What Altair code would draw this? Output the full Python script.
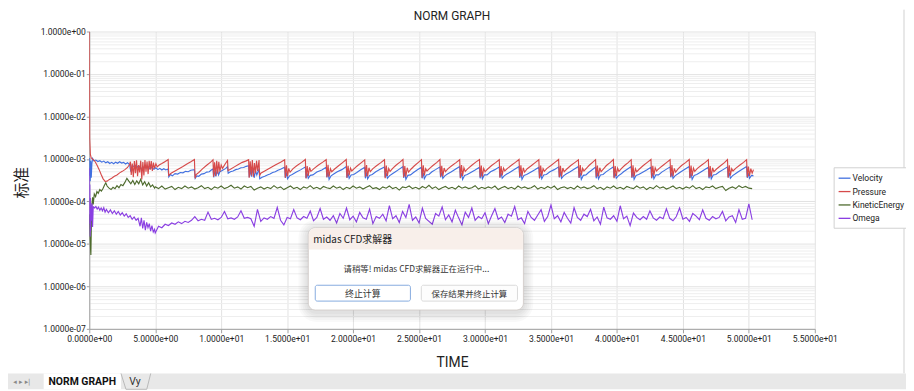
import altair as alt
import pandas as pd

TITLE = "NORM GRAPH"
X_TITLE = "TIME"
Y_TITLE = "标准"
SERIES = ["Velocity", "Pressure", "KineticEnergy", "Omega"]
COLORS = ["#4170e0", "#d64a4a", "#4e6b2e", "#8a3fe2"]
X_TICKS = [0, 5, 10, 15, 20, 25, 30, 35, 40, 45, 50, 55]
X_TICK_LABELS = ["0.0000e+00", "5.0000e+00", "1.0000e+01", "1.5000e+01", "2.0000e+01",
                 "2.5000e+01", "3.0000e+01", "3.5000e+01", "4.0000e+01", "4.5000e+01",
                 "5.0000e+01", "5.5000e+01"]
Y_TICK_LABELS = ["1.0000e+00", "1.0000e-01", "1.0000e-02", "1.0000e-03", "1.0000e-04",
                 "1.0000e-05", "1.0000e-06", "1.0000e-07"]
DIALOG_TITLE = "midas CFD求解器"
DIALOG_MSG = "请稍等! midas CFD求解器正在运行中..."
BTN1 = "终止计算"
BTN2 = "保存结果并终止计算"
TAB1 = "NORM GRAPH"
TAB2 = "Vy"

# Pressure (t, value in 1e-4)
P_PTS = [
    (0.0, 10000), (0.03, 30), (0.08, 13), (0.15, 10.5), (0.3, 9.6), (0.45, 8.6), (0.6, 7.0),
    (0.75, 5.6), (0.9, 4.3), (1.05, 3.4), (1.2, 2.95), (1.35, 3.0), (1.5, 3.25), (1.7, 3.5),
    (1.9, 3.9), (2.1, 4.2), (2.3, 4.7), (2.5, 5.1), (2.7, 5.6), (2.9, 6.3), (3.05, 7.4),
    (3.12, 8.6), (3.18, 4.2), (3.26, 7.8), (3.34, 3.7), (3.42, 8.9), (3.5, 4.6), (3.58, 9.3),
    (3.66, 3.9), (3.74, 7.2), (3.82, 4.8), (3.9, 9.1), (3.98, 3.3), (4.06, 8.4), (4.14, 4.1),
    (4.22, 9.4), (4.3, 5.0), (4.38, 8.7), (4.46, 4.4), (4.54, 9.0), (4.62, 5.6), (4.7, 8.9),
    (4.78, 5.2), (4.86, 8.2), (4.94, 6.0), (5.05, 7.7), (5.15, 6.5), (5.3, 7.2), (5.5, 7.8),
    (5.7, 8.5), (5.9, 9.3), (5.98, 9.7),
    (6.02, 4.1), (6.2, 4.6), (6.5, 5.2), (6.8, 5.9), (7.1, 6.6), (7.4, 7.6), (7.7, 8.6), (7.97, 9.7),
    (8.02, 3.5), (8.1, 4.3), (8.3, 4.8), (8.6, 5.9), (8.9, 7.1), (9.2, 8.4), (9.38, 9.5),
    (9.42, 3.8), (9.5, 8.3), (9.58, 4.0), (9.66, 9.0), (9.74, 4.5), (9.82, 8.6), (9.9, 5.0),
    (10.0, 7.2), (10.1, 6.0), (10.3, 7.6), (10.48, 9.2),
    (10.52, 5.3), (10.7, 5.7), (11.0, 6.5), (11.3, 7.4), (11.6, 8.3), (11.9, 9.0), (12.08, 9.6),
    (12.12, 3.6), (12.2, 8.8), (12.28, 4.1), (12.36, 9.4), (12.44, 3.8), (12.52, 8.0), (12.6, 4.6),
    (12.68, 9.1), (12.76, 5.2), (12.87, 9.4),
    (12.91, 4.0), (13.0, 4.6), (13.3, 5.2), (13.7, 6.1), (14.1, 7.2), (14.5, 8.4), (14.81, 9.6),
    (14.86, 3.6), (14.95, 7.1), (15.03, 3.9), (15.12, 6.0), (15.22, 4.9), (15.45, 5.9), (15.75, 7.0), (16.1, 8.3), (16.38, 9.7),
    (16.43, 3.5), (16.52, 6.8), (16.6, 4.0), (16.7, 6.3), (16.8, 5.1), (17.05, 6.0), (17.35, 7.1), (17.7, 8.4), (17.96, 9.6),
    (18.01, 3.7), (18.1, 7.3), (18.18, 3.8), (18.28, 5.9), (18.38, 5.0), (18.6, 5.8), (18.9, 6.9), (19.2, 8.2), (19.48, 9.7),
    (19.53, 3.6), (19.62, 6.9), (19.7, 4.1), (19.8, 6.1), (19.9, 5.2), (20.1, 6.0), (20.35, 7.0), (20.65, 8.3), (20.88, 9.5),
    (20.93, 3.8), (21.02, 7.2), (21.1, 3.9), (21.2, 6.2), (21.3, 5.0), (21.5, 5.9), (21.8, 7.0), (22.1, 8.2), (22.38, 9.6),
    (22.43, 3.5), (22.52, 7.0), (22.6, 4.0), (22.7, 6.0), (22.8, 5.1), (23.0, 6.0), (23.25, 7.1), (23.55, 8.4), (23.78, 9.7),
    (23.83, 3.7), (23.92, 6.8), (24.0, 3.8), (24.1, 6.2), (24.2, 4.9), (24.4, 5.8), (24.65, 6.9), (24.95, 8.3), (25.18, 9.6),
    (25.23, 3.6), (25.32, 7.1), (25.4, 4.1), (25.5, 5.9), (25.6, 5.2), (25.8, 6.0), (26.05, 7.0), (26.35, 8.3), (26.58, 9.7),
    (26.63, 3.8), (26.72, 6.9), (26.8, 3.9), (26.9, 6.1), (27.0, 5.0), (27.2, 5.9), (27.5, 7.0), (27.8, 8.2), (28.08, 9.6),
    (28.13, 3.5), (28.22, 7.2), (28.3, 4.0), (28.4, 6.2), (28.5, 5.1), (28.7, 5.9), (29.0, 7.1), (29.3, 8.4), (29.58, 9.7),
    (29.63, 3.7), (29.72, 7.0), (29.8, 3.8), (29.9, 6.0), (30.0, 5.0), (30.2, 5.8), (30.5, 7.0), (30.8, 8.2), (31.08, 9.6),
    (31.13, 3.6), (31.22, 6.8), (31.3, 4.1), (31.4, 6.1), (31.5, 5.2), (31.7, 6.0), (32.0, 7.1), (32.3, 8.3), (32.58, 9.7),
    (32.63, 3.8), (32.72, 7.1), (32.8, 3.9), (32.9, 6.2), (33.0, 4.9), (33.2, 5.9), (33.5, 6.9), (33.8, 8.2), (34.08, 9.6),
    (34.13, 3.5), (34.22, 7.0), (34.3, 4.0), (34.4, 5.9), (34.5, 5.1), (34.7, 6.0), (35.0, 7.0), (35.3, 8.3), (35.58, 9.7),
    (35.63, 3.7), (35.72, 6.9), (35.8, 3.8), (35.9, 6.1), (36.0, 5.0), (36.2, 5.8), (36.5, 7.0), (36.8, 8.2), (37.08, 9.5),
    (37.13, 3.6), (37.22, 7.2), (37.3, 4.1), (37.4, 6.0), (37.5, 5.2), (37.7, 6.1), (37.9, 7.1), (38.15, 8.3), (38.38, 9.6),
    (38.43, 3.8), (38.52, 7.0), (38.6, 3.9), (38.7, 6.2), (38.8, 5.0), (39.0, 5.9), (39.2, 7.0), (39.5, 8.3), (39.73, 9.7),
    (39.78, 3.5), (39.87, 6.8), (39.95, 4.0), (40.05, 6.1), (40.15, 5.1), (40.35, 6.0), (40.6, 7.1), (40.85, 8.2), (41.08, 9.6),
    (41.13, 3.7), (41.22, 7.1), (41.3, 3.8), (41.4, 5.9), (41.5, 5.0), (41.7, 5.8), (42.0, 7.0), (42.3, 8.3), (42.58, 9.7),
    (42.63, 3.6), (42.72, 6.9), (42.8, 4.1), (42.9, 6.2), (43.0, 5.2), (43.2, 6.0), (43.5, 7.1), (43.8, 8.4), (44.03, 9.6),
    (44.08, 3.8), (44.17, 7.2), (44.25, 3.9), (44.35, 6.0), (44.45, 4.9), (44.65, 5.9), (44.9, 7.0), (45.2, 8.2), (45.48, 9.7),
    (45.53, 3.5), (45.62, 7.0), (45.7, 4.0), (45.8, 6.1), (45.9, 5.1), (46.1, 6.0), (46.4, 7.1), (46.7, 8.3), (46.93, 9.6),
    (46.98, 3.7), (47.07, 6.8), (47.15, 3.8), (47.25, 6.2), (47.35, 5.0), (47.55, 5.8), (47.85, 6.9), (48.15, 8.2), (48.38, 9.7),
    (48.43, 3.6), (48.52, 7.1), (48.6, 4.1), (48.7, 5.9), (48.8, 5.2), (49.0, 6.0), (49.3, 7.1), (49.6, 8.3), (49.83, 9.6),
    (49.88, 3.7), (49.97, 6.6), (50.05, 4.0), (50.15, 5.9), (50.25, 4.6), (50.35, 5.6),
]

# Velocity (t, value in 1e-4)
V_PTS = [
    (0.0, 4.0), (0.03, 10.5), (0.07, 3.0), (0.11, 9.0), (0.15, 3.6), (0.2, 8.0), (0.25, 10.2),
    (0.35, 9.0), (0.5, 9.4), (0.65, 8.7), (0.8, 9.1), (0.95, 8.4), (1.1, 8.9), (1.25, 8.1),
    (1.4, 8.6), (1.55, 7.8), (1.7, 8.3), (1.85, 7.7), (2.0, 8.4), (2.15, 7.9), (2.3, 8.6),
    (2.45, 8.0), (2.6, 8.3), (2.75, 7.6), (2.9, 8.1), (3.05, 7.4), (3.15, 5.0), (3.25, 7.0),
    (3.4, 6.6), (3.55, 7.1), (3.7, 6.3), (3.85, 6.8), (4.0, 5.4), (4.15, 6.5), (4.3, 6.1),
    (4.45, 6.6), (4.6, 5.9), (4.75, 6.3), (4.9, 5.7), (5.05, 6.2), (5.2, 5.6), (5.35, 6.0),
    (5.5, 5.5), (5.65, 5.9), (5.8, 5.5), (5.97, 5.8),
    (6.03, 3.8), (6.15, 4.3), (6.3, 4.0), (6.5, 4.5), (6.7, 4.4), (6.9, 4.8), (7.1, 4.7),
    (7.3, 5.1), (7.5, 5.0), (7.7, 5.4), (7.97, 5.6),
    (8.03, 3.5), (8.15, 4.0), (8.3, 3.9), (8.5, 4.4), (8.7, 4.5), (8.9, 4.9), (9.1, 5.0),
    (9.25, 5.5), (9.38, 5.8),
    (9.43, 3.7), (9.52, 5.2), (9.6, 3.9), (9.7, 5.5), (9.8, 4.2), (9.9, 5.0), (10.05, 5.3),
    (10.2, 5.6), (10.35, 6.0), (10.48, 6.6),
    (10.53, 4.6), (10.7, 5.0), (10.9, 5.2), (11.1, 5.6), (11.3, 5.8), (11.5, 6.2), (11.7, 6.3),
    (11.9, 6.7), (12.08, 6.9),
    (12.13, 3.7), (12.22, 5.6), (12.3, 3.8), (12.4, 6.0), (12.5, 3.6), (12.6, 5.3), (12.7, 4.2),
    (12.87, 5.8),
    (12.92, 3.4), (13.1, 3.7), (13.3, 3.9), (13.5, 4.2), (13.7, 4.4), (13.9, 4.8), (14.1, 5.0),
    (14.3, 5.4), (14.5, 5.7), (14.81, 6.4),
    (14.86, 3.6), (14.95, 4.8), (15.03, 3.4), (15.18, 4.0), (15.38, 4.3), (15.7, 4.9), (16.05, 5.6), (16.38, 6.5),
    (16.43, 3.5), (16.52, 4.6), (16.6, 3.5), (16.75, 4.1), (16.95, 4.2), (17.25, 4.9), (17.63, 5.5), (17.96, 6.4),
    (18.01, 3.7), (18.1, 4.9), (18.18, 3.3), (18.33, 4.0), (18.53, 4.4), (18.8, 5.0), (19.15, 5.6), (19.48, 6.6),
    (19.53, 3.6), (19.62, 4.7), (19.7, 3.5), (19.85, 4.2), (20.05, 4.3), (20.28, 4.8), (20.55, 5.5), (20.88, 6.4),
    (20.93, 3.5), (21.02, 4.8), (21.1, 3.4), (21.25, 4.1), (21.45, 4.3), (21.72, 5.0), (22.05, 5.7), (22.38, 6.5),
    (22.43, 3.7), (22.52, 4.6), (22.6, 3.5), (22.75, 4.0), (22.95, 4.4), (23.18, 4.9), (23.45, 5.6), (23.78, 6.6),
    (23.83, 3.6), (23.92, 4.9), (24.0, 3.3), (24.15, 4.1), (24.35, 4.2), (24.58, 4.8), (24.85, 5.5), (25.18, 6.4),
    (25.23, 3.5), (25.32, 4.7), (25.4, 3.4), (25.55, 4.2), (25.75, 4.3), (25.98, 5.0), (26.25, 5.6), (26.58, 6.5),
    (26.63, 3.7), (26.72, 4.8), (26.8, 3.5), (26.95, 4.0), (27.15, 4.4), (27.42, 4.9), (27.75, 5.7), (28.08, 6.6),
    (28.13, 3.6), (28.22, 4.6), (28.3, 3.3), (28.45, 4.1), (28.65, 4.3), (28.92, 4.8), (29.25, 5.5), (29.58, 6.4),
    (29.63, 3.5), (29.72, 4.9), (29.8, 3.4), (29.95, 4.2), (30.15, 4.2), (30.42, 5.0), (30.75, 5.6), (31.08, 6.5),
    (31.13, 3.7), (31.22, 4.7), (31.3, 3.5), (31.45, 4.0), (31.65, 4.4), (31.92, 4.9), (32.25, 5.7), (32.58, 6.6),
    (32.63, 3.6), (32.72, 4.8), (32.8, 3.3), (32.95, 4.1), (33.15, 4.3), (33.42, 4.8), (33.75, 5.5), (34.08, 6.4),
    (34.13, 3.5), (34.22, 4.6), (34.3, 3.4), (34.45, 4.2), (34.65, 4.3), (34.92, 5.0), (35.25, 5.6), (35.58, 6.5),
    (35.63, 3.7), (35.72, 4.9), (35.8, 3.5), (35.95, 4.0), (36.15, 4.4), (36.42, 4.9), (36.75, 5.7), (37.08, 6.6),
    (37.13, 3.6), (37.22, 4.7), (37.3, 3.3), (37.45, 4.1), (37.65, 4.2), (37.85, 4.8), (38.1, 5.5), (38.38, 6.4),
    (38.43, 3.5), (38.52, 4.8), (38.6, 3.4), (38.75, 4.2), (38.95, 4.3), (39.15, 4.9), (39.42, 5.6), (39.73, 6.5),
    (39.78, 3.7), (39.87, 4.6), (39.95, 3.5), (40.1, 4.0), (40.3, 4.4), (40.5, 5.0), (40.78, 5.7), (41.08, 6.6),
    (41.13, 3.6), (41.22, 4.9), (41.3, 3.3), (41.45, 4.1), (41.65, 4.3), (41.92, 4.8), (42.25, 5.5), (42.58, 6.4),
    (42.63, 3.5), (42.72, 4.7), (42.8, 3.4), (42.95, 4.2), (43.15, 4.2), (43.4, 4.9), (43.7, 5.6), (44.03, 6.5),
    (44.08, 3.7), (44.17, 4.8), (44.25, 3.5), (44.4, 4.0), (44.6, 4.4), (44.85, 5.0), (45.15, 5.7), (45.48, 6.6),
    (45.53, 3.6), (45.62, 4.6), (45.7, 3.3), (45.85, 4.1), (46.05, 4.3), (46.3, 4.8), (46.6, 5.5), (46.93, 6.4),
    (46.98, 3.5), (47.07, 4.9), (47.15, 3.4), (47.3, 4.2), (47.5, 4.3), (47.75, 4.9), (48.05, 5.6), (48.38, 6.5),
    (48.43, 3.7), (48.52, 4.7), (48.6, 3.5), (48.75, 4.0), (48.95, 4.4), (49.2, 5.0), (49.5, 5.7), (49.83, 6.6),
    (49.88, 3.6), (49.97, 4.6), (50.05, 3.5), (50.2, 4.1), (50.35, 4.0),
]

# KineticEnergy, start-up part (t, value in 1e-4)
K_START = [
    (0.0, 0.5), (0.05, 0.15), (0.12, 0.055), (0.18, 0.7), (0.25, 1.25), (0.3, 0.85), (0.38, 1.5),
    (0.48, 1.3), (0.58, 1.7), (0.68, 1.55), (0.8, 1.9), (0.92, 1.75), (1.05, 2.05), (1.15, 2.4),
    (1.25, 2.75), (1.35, 2.3), (1.5, 2.05), (1.65, 1.9), (1.8, 2.15), (1.95, 2.0), (2.1, 2.35),
    (2.25, 2.1), (2.4, 2.5), (2.55, 2.35), (2.7, 2.8), (2.85, 3.5), (3.0, 3.0), (3.15, 2.6),
    (3.3, 3.1), (3.45, 2.5), (3.6, 3.05), (3.75, 2.6), (3.9, 3.3), (4.05, 2.45), (4.2, 2.9),
    (4.35, 2.3), (4.5, 2.75), (4.65, 2.2), (4.8, 2.45), (4.95, 2.05),
]

# Omega, start-up part (t, value in 1e-5)
O_START = [
    (0.0, 60), (0.02, 3.0), (0.04, 25), (0.06, 1.5), (0.08, 12), (0.1, 2.0), (0.13, 8.0),
    (0.16, 3.5), (0.2, 9.0), (0.25, 2.5), (0.3, 7.5), (0.4, 7.0), (0.5, 7.6), (0.6, 6.6),
    (0.7, 7.3), (0.8, 6.2), (0.9, 7.0), (1.0, 6.0), (1.1, 7.1), (1.2, 5.6), (1.3, 6.5),
    (1.45, 5.4), (1.6, 6.3), (1.75, 5.2), (1.9, 6.0), (2.05, 5.0), (2.2, 5.8), (2.35, 4.8),
    (2.5, 5.4), (2.65, 4.5), (2.8, 5.1), (2.95, 4.2), (3.1, 4.6), (3.25, 3.8), (3.4, 4.3),
    (3.55, 3.6), (3.7, 4.0), (3.85, 2.6), (3.95, 4.1), (4.05, 2.3), (4.15, 3.6), (4.25, 2.1),
    (4.35, 3.2), (4.45, 2.4), (4.55, 3.0), (4.65, 2.0), (4.75, 2.7), (4.85, 1.9), (4.95, 2.2),
]

# time grid for the rest of the run (5.00 ... 50.25, every 0.25)
GRID_T = [5.0 + 0.25 * i for i in range(182)]

# KineticEnergy on GRID_T (1e-4)
K_GRID = [
    2.2, 2.0, 2.3, 1.95, 2.1, 2.25, 1.9, 2.15, 2.0, 2.3, 2.05, 2.2, 1.95, 2.1, 2.35, 2.0,
    2.15, 1.9, 2.2, 2.05, 2.3, 2.0, 2.15, 2.4, 2.05, 2.2, 1.95, 2.3, 2.1, 2.25, 1.85, 2.05,
    2.2, 1.95, 2.15, 2.0, 2.35, 2.05, 2.2, 1.9, 2.1, 2.3, 2.0, 2.15, 1.9, 2.2, 2.05, 2.35,
    2.0, 2.15, 1.95, 2.25, 2.1, 2.0, 2.3, 2.05, 2.2, 1.9, 2.15, 2.0, 2.3, 2.05, 2.2, 1.95,
    2.15, 2.35, 2.0, 2.1, 1.9, 2.2, 2.05, 2.3, 2.0, 2.15, 1.85, 2.2, 2.1, 2.3, 2.0, 2.15,
    1.95, 2.25, 2.05, 2.4, 2.0, 2.2, 1.9, 2.1, 2.25, 2.0, 2.15, 1.95, 2.3, 2.05, 2.2, 2.0,
    2.1, 2.35, 1.95, 2.15, 2.0, 2.2, 2.05, 2.3, 1.9, 2.1, 2.25, 2.0, 2.15, 1.95, 2.3, 2.05,
    2.2, 2.0, 2.1, 2.35, 1.95, 2.15, 2.0, 2.25, 2.05, 2.3, 1.9, 2.1, 2.2, 2.0, 2.15, 1.95,
    2.3, 2.05, 2.2, 2.0, 2.1, 2.35, 2.0, 2.15, 1.9, 2.2, 2.05, 2.3, 2.0, 2.15, 1.95, 2.25,
    2.1, 2.0, 2.3, 2.05, 2.2, 1.9, 2.15, 2.0, 2.35, 2.05, 2.2, 1.95, 2.1, 2.3, 2.0, 2.15,
    1.95, 2.2, 2.05, 2.35, 2.0, 2.15, 1.9, 2.2, 2.1, 2.3, 2.0, 2.15, 2.25, 1.8, 2.05, 2.2,
    2.0, 2.35, 2.1, 2.25, 2.05, 2.0,
]

# Omega on GRID_T (1e-5)
O_GRID = [
    1.8, 2.6, 2.4, 2.9, 2.7, 3.1, 2.9, 3.3, 3.0, 3.4, 3.2, 3.6, 4.4, 3.5, 3.8, 3.6,
    5.6, 3.8, 4.0, 3.7, 4.2, 5.8, 3.9, 4.1, 3.8, 4.3, 6.0, 4.0, 4.2, 3.9, 2.6, 6.5,
    3.4, 4.1, 3.8, 4.4, 4.0, 7.2, 3.6, 2.8, 4.2, 3.9, 6.4, 4.1, 3.7, 4.4, 4.0, 5.9,
    3.5, 4.2, 6.8, 3.8, 4.3, 3.6, 4.6, 3.1, 5.2, 4.0, 7.0, 3.7, 4.5, 3.3, 5.5, 4.1,
    3.8, 6.6, 3.0, 4.4, 4.0, 5.0, 3.5, 8.0, 3.9, 4.6, 3.2, 5.8, 4.2, 8.5, 3.6, 4.3,
    3.1, 6.9, 4.0, 3.4, 2.9, 5.2, 4.5, 7.4, 3.7, 4.8, 3.3, 6.2, 4.1, 2.8, 5.6, 4.2,
    7.0, 3.6, 4.4, 3.9, 5.4, 3.0, 4.6, 6.8, 3.8, 4.3, 3.2, 5.0, 4.5, 7.6, 3.7, 4.1,
    3.0, 5.8, 4.2, 3.6, 4.8, 6.4, 3.4, 4.4, 8.2, 3.9, 4.6, 3.3, 5.5, 4.0, 3.1, 7.1,
    4.2, 3.6, 5.0, 4.4, 6.5, 3.5, 4.3, 2.9, 7.3, 4.1, 3.8, 4.6, 3.4, 7.9, 3.9, 4.5,
    2.7, 5.3, 4.2, 3.7, 4.4, 3.8, 6.0, 4.1, 3.6, 4.3, 3.9, 6.7, 4.0, 3.5, 4.4, 7.0,
    3.8, 4.2, 3.4, 5.2, 4.5, 3.7, 6.3, 4.0, 3.6, 4.4, 3.9, 4.2, 5.8, 3.5, 4.3, 4.6,
    3.2, 6.4, 3.8, 4.0, 8.8, 3.7,
]

rows = []
for t, v in V_PTS:
    rows.append({"t": t, "v": v * 1e-4, "s": "Velocity"})
for t, v in P_PTS:
    rows.append({"t": t, "v": v * 1e-4, "s": "Pressure"})
for t, v in K_START:
    rows.append({"t": t, "v": v * 1e-4, "s": "KineticEnergy"})
for t, v in zip(GRID_T, K_GRID):
    rows.append({"t": t, "v": v * 1e-4, "s": "KineticEnergy"})
for t, v in O_START:
    rows.append({"t": t, "v": v * 1e-5, "s": "Omega"})
for t, v in zip(GRID_T, O_GRID):
    rows.append({"t": t, "v": v * 1e-5, "s": "Omega"})
df = pd.DataFrame(rows)

FONT = "Roboto"
CJK = "Noto Sans CJK SC"

Y_TICKS = [float(f"{m}e{e}") for e in range(-7, 0) for m in range(1, 10)] + [1.0]
DECADE = "abs(log(datum.value)/LN10 - round(log(datum.value)/LN10)) < 0.001"
y_arr = "[" + ",".join(f"'{s}'" for s in Y_TICK_LABELS) + "]"
x_arr = "[" + ",".join(f"'{s}'" for s in X_TICK_LABELS) + "]"
y_label_expr = f"{DECADE} ? {y_arr}[round(-log(datum.value)/LN10)] : ''"
x_label_expr = f"{x_arr}[round(datum.value/5)]"

lines = alt.Chart(df).mark_line(strokeWidth=1.15, clip=True).encode(
    x=alt.X("t:Q", scale=alt.Scale(domain=[0, 55], nice=False, zero=False),
            axis=alt.Axis(values=X_TICKS, labelExpr=x_label_expr, title=X_TITLE,
                          gridColor="#e2e2e2", domainColor="#a0a0a0", tickColor="#a0a0a0",
                          tickSize=4, labelFont=FONT, labelFontSize=8.6, labelColor="#222",
                          labelPadding=2, labelFlush=False, labelOverlap=False,
                          titleFont=FONT, titleFontSize=14, titleFontWeight="normal",
                          titleColor="#222", titleY=38, titleBaseline="alphabetic")),
    y=alt.Y("v:Q", scale=alt.Scale(type="log", domain=[1e-7, 1], nice=False),
            axis=alt.Axis(values=Y_TICKS, labelExpr=y_label_expr, title=Y_TITLE,
                          gridColor={"condition": {"test": DECADE, "value": "#e2e2e2"}, "value": "#eeeeee"},
                          tickColor={"condition": {"test": DECADE, "value": "#a0a0a0"}, "value": "transparent"},
                          domainColor="#a0a0a0", tickSize=3, labelFont=FONT, labelFontSize=8.6,
                          labelColor="#222", labelPadding=1, labelFlush=False, labelOverlap=False,
                          titleFont=CJK, titleFontSize=16, titleFontWeight="normal", titleColor="#222",
                          titleX=-68, titleY=152, titleAngle=270, titleAlign="center",
                          titleBaseline="middle")),
    color=alt.Color("s:N", scale=alt.Scale(domain=SERIES, range=COLORS),
                    legend=alt.Legend(title=None, orient="none", legendX=751, legendY=137,
                                      symbolType="stroke", symbolSize=144, symbolStrokeWidth=1.3,
                                      labelFont=FONT, labelFontSize=8.6, labelColor="#222",
                                      padding=4, strokeColor="#d0d0d0", fillColor="white",
                                      rowPadding=1.5, labelOffset=1)),
    order=alt.Order("t:Q"),
)

ONE = pd.DataFrame({"k": [0]})


def box(x1, x2, y1, y2, **kw):
    return alt.Chart(ONE).mark_rect(**kw).encode(
        x=alt.value(x1), x2=alt.value(x2), y=alt.value(y1), y2=alt.value(y2))


def label(x, y, text, **kw):
    return alt.Chart(ONE).mark_text(text=text, **kw).encode(x=alt.value(x), y=alt.value(y))


def seg(x1, y1, x2, y2, **kw):
    return alt.Chart(ONE).mark_rule(**kw).encode(
        x=alt.value(x1), x2=alt.value(x2), y=alt.value(y1), y2=alt.value(y2))


decos = [label(366, -16, TITLE, font=FONT, fontSize=12, color="#222", baseline="middle")]

# dialog shadow + body
for k in [10, 8, 6, 4, 2]:
    decos.append(box(221 - k, 438 + k, 198 - k + 2, 281 + k + 2, fill="#000000",
                     opacity=0.025, cornerRadius=8 + k))
decos += [
    box(221, 438, 198, 281, fill="white", stroke="#cfc9c5", strokeWidth=0.8, cornerRadius=7),
    box(221.5, 437.5, 198.5, 220, fill="#f8efea", cornerRadiusTopLeft=7, cornerRadiusTopRight=7),
    label(226, 210, DIALOG_TITLE, font=CJK, fontSize=10, color="#222", align="left", baseline="middle"),
    label(330, 239.5, DIALOG_MSG, font=CJK, fontSize=8.5, color="#333", baseline="middle"),
    box(228, 324, 256, 272, fill="white", stroke="#86abdf", strokeWidth=1, cornerRadius=2),
    label(276, 264.5, BTN1, font=CJK, fontSize=9, color="#333", baseline="middle"),
    box(335, 432, 256, 272, fill="#fdfdfd", stroke="#dadada", strokeWidth=1, cornerRadius=2),
    label(383.5, 264.5, BTN2, font=CJK, fontSize=8.5, color="#333", baseline="middle"),
]

# window frame and sheet tabs
decos += [
    seg(822, -22, 822, 345, stroke="#d0d0d0", strokeWidth=1),
    box(-82, 824, 345, 361, fill="#e8e8e8"),
    box(-46, 32, 345, 361, fill="white"),
    seg(32, 345, 37, 361, stroke="#b8b8b8", strokeWidth=1),
    seg(37, 361, 58, 361, stroke="#b8b8b8", strokeWidth=1),
    seg(58, 361, 62, 345, stroke="#b8b8b8", strokeWidth=1),
    label(-7, 353.5, TAB1, font=FONT, fontSize=10.5, fontWeight="bold", color="#111", baseline="middle"),
    label(46, 353.5, TAB2, font=FONT, fontSize=10.5, color="#333", baseline="middle"),
    label(-68, 353.5, "◂  ▸  ▸|", font="DejaVu Sans", fontSize=7, color="#888", baseline="middle"),
]

chart = alt.layer(lines, *decos).properties(
    width=732, height=300,
    padding={"left": 82, "top": 22, "right": 92, "bottom": 61},
    autosize=alt.AutoSizeParams(type="none"),
    background="white",
).configure_view(stroke="transparent")

chart.save("out.html", embed_options={"renderer": "svg", "actions": False})
